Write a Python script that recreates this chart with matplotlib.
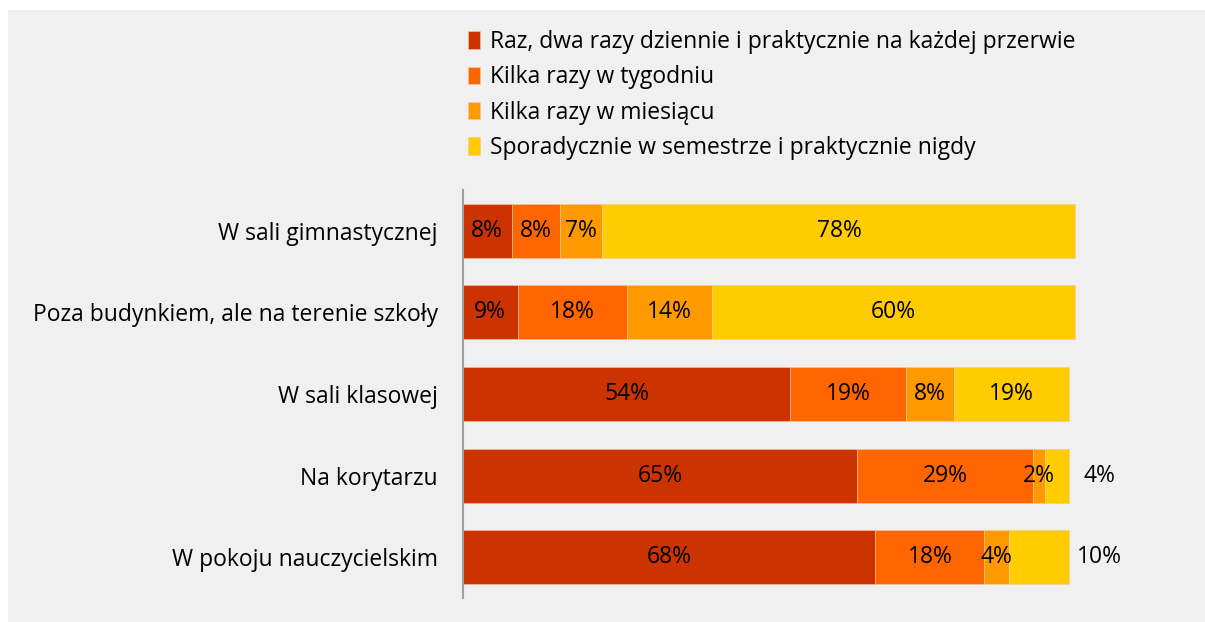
import numpy as np
import matplotlib
matplotlib.use('Agg')
import matplotlib.pyplot as plt
from matplotlib.patches import Rectangle

plt.rcParams['font.family'] = ['Open Sans', 'DejaVu Sans']

categories = ['W sali gimnastycznej',
              'Poza budynkiem, ale na terenie szkoły',
              'W sali klasowej',
              'Na korytarzu',
              'W pokoju nauczycielskim']
series_names = ['Raz, dwa razy dziennie i praktycznie na każdej przerwie',
                'Kilka razy w tygodniu',
                'Kilka razy w miesiącu',
                'Sporadycznie w semestrze i praktycznie nigdy']
daily = [8, 9, 54, 65, 68]
weekly = [8, 18, 19, 29, 18]
monthly = [7, 14, 8, 2, 4]
rarely = [78, 60, 19, 4, 10]
colors = ['#CC3300', '#FF6600', '#FF9900', '#FFCC00']

# etykiety, ktore nie mieszcza sie w slupku, ida na prawo od niego
outside = [False, False, False, True, True]

W, H = 1205, 622
fig = plt.figure(figsize=(W / 100, H / 100), dpi=100)
fig.patch.set_facecolor('white')
fig.patches.append(Rectangle((8 / W, 0), 1, 1 - 10 / H, transform=fig.transFigure,
                             facecolor='#F0F0F0', edgecolor='none', zorder=-5))

ax = fig.add_axes([463 / W, 1 - 598 / H, 667 / W, 408 / H])
ax.set_facecolor('none')
ax.set_zorder(2)

fs = 16.5
y = np.arange(len(categories))
left = np.zeros(len(categories))
bars = []
for vals, name, col in zip([daily, weekly, monthly, rarely], series_names, colors):
    vals = np.array(vals, dtype=float)
    b = ax.barh(y, vals, left=left, height=0.66, color=col, label=name,
                edgecolor='#F5C9A0', linewidth=0.4)
    bars.append(b)
    for i, v in enumerate(vals):
        cx = left[i] + v / 2
        if col == colors[3] and outside[i]:
            ax.text(105, y[i], f'{int(v)}%', ha='center', va='center', fontsize=fs)
        else:
            ax.text(cx, y[i], f'{int(v)}%', ha='center', va='center', fontsize=fs)
    left += vals

ax.set_xlim(0, 110)
ax.set_ylim(4.5, -0.5)
ax.set_yticks(y)
ax.set_yticklabels(categories, fontsize=fs)
ax.tick_params(axis='y', length=0, pad=18)
ax.set_xticks([])
for s in ['top', 'right', 'bottom']:
    ax.spines[s].set_visible(False)
ax.spines['left'].set_color('#A0A0A0')
ax.spines['left'].set_linewidth(1.5)

leg = fig.legend(handles=bars, labels=series_names, loc='upper left',
                 bbox_to_anchor=(459 / W, 1 - 21 / H), frameon=False, fontsize=fs,
                 handlelength=0.52, handleheight=0.8, handletextpad=0.42,
                 labelspacing=0.49, borderaxespad=0)

fig.savefig('out.png', dpi=100, facecolor=fig.get_facecolor())
